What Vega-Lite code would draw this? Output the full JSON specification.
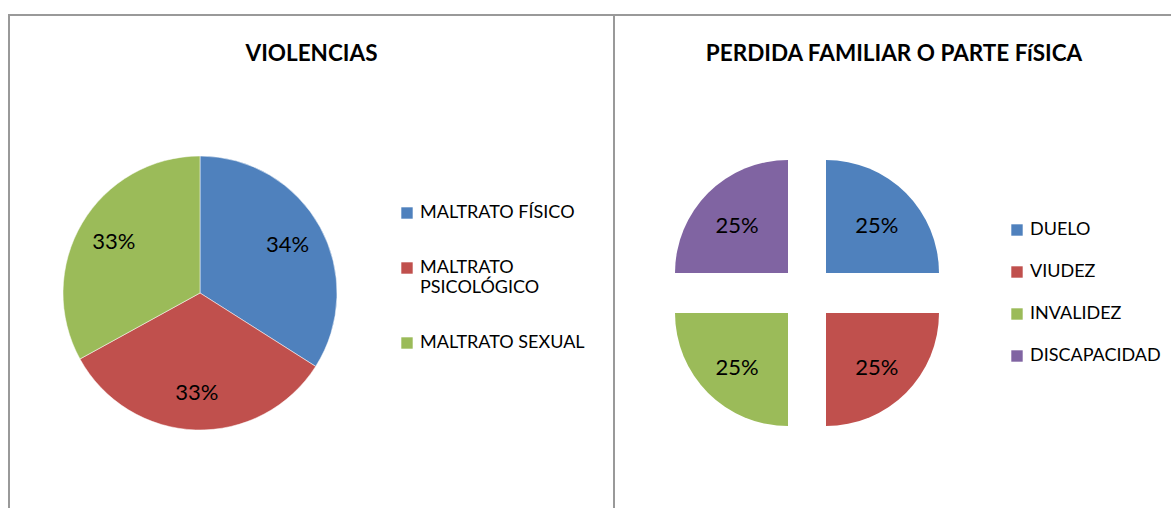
{
  "$schema": "https://vega.github.io/schema/vega-lite/v6.json",
  "padding": {"left": 8, "top": 14, "right": 0, "bottom": 0},
  "background": "white",
  "bounds": "flush",
  "config": {
    "view": {"stroke": "#999999", "strokeWidth": 2},
    "font": "Lato",
    "title": {"font": "Lato", "fontSize": 22.5, "fontWeight": "bold", "color": "#000000", "offset": -50, "anchor": "middle"},
    "legend": {"labelFont": "Lato", "labelFontSize": 18, "labelColor": "#000000", "symbolType": "square", "symbolSize": 130, "symbolStrokeWidth": 0, "labelOffset": 4, "labelLimit": 300, "orient": "none"}
  },
  "spacing": 0,
  "resolve": {"scale": {"color": "independent", "x": "independent", "y": "independent", "theta": "independent"}, "legend": {"color": "independent"}},
  "hconcat": [
    {
      "width": 605,
      "height": 500,
      "title": "VIOLENCIAS",
      "data": {"values": [
        {"tipo": "MALTRATO FÍSICO", "pct": 0.34, "orden": 1, "grupo": "VIOLENCIAS"},
        {"tipo": "MALTRATO PSICOLÓGICO", "pct": 0.33, "orden": 2, "grupo": "VIOLENCIAS"},
        {"tipo": "MALTRATO SEXUAL", "pct": 0.33, "orden": 3, "grupo": "VIOLENCIAS"}
      ]},
      "encoding": {
        "theta": {"field": "pct", "type": "quantitative", "stack": true},
        "order": {"field": "orden", "type": "quantitative"},
        "x": {"field": "grupo", "type": "nominal", "scale": {"type": "point", "domain": ["VIOLENCIAS"], "range": [191, 191], "padding": 0}, "axis": null},
        "y": {"field": "grupo", "type": "nominal", "scale": {"type": "point", "domain": ["VIOLENCIAS"], "range": [278, 278], "padding": 0}, "axis": null}
      },
      "layer": [
        {
          "mark": {"type": "arc", "outerRadius": 137, "stroke": "white", "strokeWidth": 0.5},
          "encoding": {
            "color": {
              "field": "tipo", "type": "nominal",
              "scale": {"domain": ["MALTRATO FÍSICO", "MALTRATO PSICOLÓGICO", "MALTRATO SEXUAL"], "range": ["#4F81BD", "#C0504D", "#9BBB59"]},
              "sort": null,
              "legend": {
                "title": null, "legendX": 389, "legendY": 189, "rowPadding": 37,
                "labelExpr": "datum.label === 'MALTRATO PSICOLÓGICO' ? ['MALTRATO', 'PSICOLÓGICO'] : datum.label",
                "encode": {"labels": {"update": {"lineHeight": {"value": 25}}}}
              }
            }
          }
        },
        {
          "mark": {"type": "text", "radius": 100, "fontSize": 22, "font": "Lato", "color": "#000000"},
          "encoding": {
            "text": {"field": "pct", "type": "quantitative", "format": ".0%"}
          }
        }
      ]
    },
    {
      "width": 560,
      "height": 500,
      "title": "PERDIDA FAMILIAR O PARTE FíSICA",
      "data": {"values": [
        {"tipo": "DUELO", "pct": 0.25, "orden": 1, "lado": "der", "nivel": "arriba"},
        {"tipo": "VIUDEZ", "pct": 0.25, "orden": 2, "lado": "der", "nivel": "abajo"},
        {"tipo": "INVALIDEZ", "pct": 0.25, "orden": 3, "lado": "izq", "nivel": "abajo"},
        {"tipo": "DISCAPACIDAD", "pct": 0.25, "orden": 4, "lado": "izq", "nivel": "arriba"}
      ]},
      "encoding": {
        "theta": {"field": "pct", "type": "quantitative", "stack": true},
        "order": {"field": "orden", "type": "quantitative"},
        "x": {"field": "lado", "type": "nominal", "scale": {"type": "point", "domain": ["izq", "der"], "range": [174, 212], "padding": 0}, "axis": null},
        "y": {"field": "nivel", "type": "nominal", "scale": {"type": "point", "domain": ["arriba", "abajo"], "range": [258, 298], "padding": 0}, "axis": null}
      },
      "layer": [
        {
          "mark": {"type": "arc", "outerRadius": 113},
          "encoding": {
            "color": {
              "field": "tipo", "type": "nominal",
              "scale": {"domain": ["DUELO", "VIUDEZ", "INVALIDEZ", "DISCAPACIDAD"], "range": ["#4F81BD", "#C0504D", "#9BBB59", "#8064A2"]},
              "sort": null,
              "legend": {"title": null, "legendX": 394, "legendY": 206, "rowPadding": 24}
            }
          }
        },
        {
          "mark": {"type": "text", "radius": 72, "dy": 4, "fontSize": 22, "font": "Lato", "color": "#000000"},
          "encoding": {
            "text": {"field": "pct", "type": "quantitative", "format": ".0%"}
          }
        }
      ]
    }
  ]
}
